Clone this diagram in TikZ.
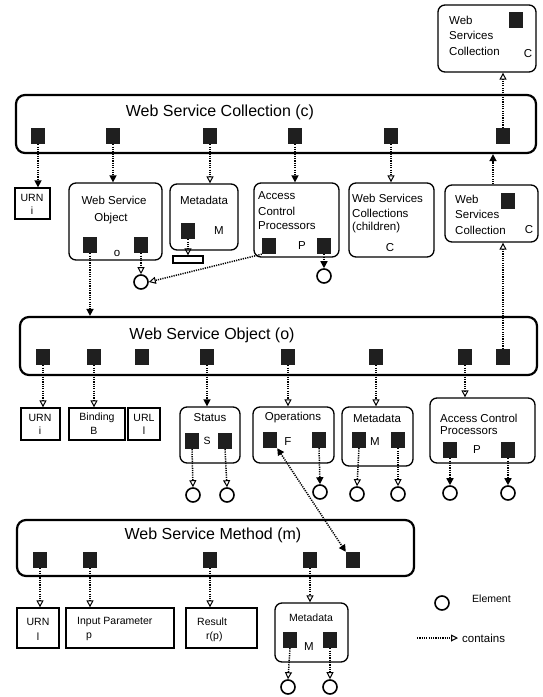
\documentclass[tikz,border=0pt]{standalone}
\usepackage{fontspec}
\setmainfont{Liberation Sans}
\usetikzlibrary{arrows.meta}
\newcommand\mybox[6]{\node[#2, minimum width={(#5-#3)*1pt}, minimum height={(#6-#4)*1pt}, inner sep=0pt] (#1) at ({(#3+#5)/2},{(#4+#6)/2}) {};}
\begin{document}
\begin{tikzpicture}[x=1pt,y=-1pt,
  bigbox/.style={draw, line width=2.2pt, rounded corners=9pt},
  rbox/.style={draw, line width=1.3pt, rounded corners=7pt},
  sbox/.style={draw, line width=1.3pt},
  sq/.style={fill=black!88, minimum width=14pt, minimum height=16pt, inner sep=0pt},
  el/.style={circle, draw, line width=1.6pt, minimum size=14pt, inner sep=0pt},
  dotline/.style={line width=1.5pt, dash pattern=on 1.2pt off 1.1pt},
  cont/.style={dotline, -{Triangle[open,length=7pt,width=7pt,line width=1pt]}},
  contf/.style={dotline, -{Triangle[length=7pt,width=7pt]}},
  ttl/.style={font=\fontsize{16}{19}\selectfont, inner sep=0pt},
  mt/.style={font=\fontsize{11.5}{14}\selectfont, inner sep=0pt},
  st/.style={font=\fontsize{10.5}{13}\selectfont, inner sep=0pt}
]
\useasboundingbox (0,0) rectangle (543,697);

% ===== Web Service Collection =====
\mybox{C}{bigbox}{16}{95}{536}{153}
\node[ttl] (Ct) at (220,112) {Web Service Collection (c)};
\node[sq] (c1) at (38,136) {};
\node[sq] (c2) at (113,136) {};
\node[sq] (c3) at (210,136) {};
\node[sq] (c4) at (295,136) {};
\node[sq] (c5) at (391,136) {};
\node[sq] (c6) at (503,136) {};

% top-right collection
\mybox{tr}{rbox}{438}{5}{536}{72}
\node[sq] (trs) at (516,20) {};
\node[mt, anchor=west] (trt1) at (449,20) {Web};
\node[mt, anchor=west] (trt2) at (449,35) {Services};
\node[mt, anchor=west] (trt3) at (449,51) {Collection};
\node[mt] (trc) at (528,54) {C};

% lower-right collection
\mybox{lr}{rbox}{445}{185}{538}{242}
\node[sq] (lrs) at (508,201) {};
\node[mt, anchor=west] (lrt1) at (455,199) {Web};
\node[mt, anchor=west] (lrt2) at (455,214) {Services};
\node[mt, anchor=west] (lrt3) at (455,230) {Collection};
\node[mt] (lrc) at (529,230) {C};

% row 1 boxes
\mybox{urn1}{sbox}{15}{188}{50}{219}
\node[st] (urn1a) at (32,198) {URN};
\node[st] (urn1b) at (32,211) {i};

\mybox{wso1}{rbox}{69}{183}{162}{260}
\node[mt] (wso1a) at (114,200) {Web Service};
\node[mt] (wso1b) at (111,219) {Object};
\node[sq] (w1) at (90,245) {};
\node[sq] (w2) at (141,245) {};
\node[mt] (wso1o) at (117,253) {o};
\node[el] (e1) at (141,282) {};

\mybox{meta1}{rbox}{170}{184}{238}{250}
\node[mt] (meta1a) at (204,200) {Metadata};
\node[sq] (mt1) at (188,231) {};
\node[mt] (meta1m) at (219,231) {M};
\mybox{rect1}{sbox}{173}{256}{203}{263}

\mybox{acp1}{rbox}{254}{183}{339}{257}
\node[mt, anchor=west] (acp1a) at (258,196) {Access};
\node[mt, anchor=west] (acp1b) at (258,211) {Control};
\node[mt, anchor=west] (acp1c) at (258,226) {Processors};
\node[sq] (a1) at (269,246) {};
\node[sq] (a2) at (324,246) {};
\node[mt] (acp1p) at (302,246) {P};
\node[el] (e2) at (324,276) {};

\mybox{chi}{rbox}{349}{183}{434}{257}
\node[mt, anchor=west] (chia) at (352,198) {Web Services};
\node[mt, anchor=west] (chib) at (352,213) {Collections};
\node[mt, anchor=west] (chic) at (352,228) {(children)};
\node[mt] (chid) at (390,248) {C};

% ===== Web Service Object =====
\mybox{O}{bigbox}{20}{317}{537}{375}
\node[ttl] (Ot) at (212,335) {Web Service Object (o)};
\node[sq] (o1) at (43,357) {};
\node[sq] (o2) at (94,357) {};
\node[sq] (o3) at (142,357) {};
\node[sq] (o4) at (207,357) {};
\node[sq] (o5) at (288,357) {};
\node[sq] (o6) at (376,357) {};
\node[sq] (o7) at (465,357) {};
\node[sq] (o8) at (503,357) {};

\mybox{urn2}{sbox}{21}{408}{60}{440}
\node[st] (urn2a) at (40,418) {URN};
\node[st] (urn2b) at (40,431) {i};
\mybox{bind}{sbox}{69}{408}{125}{440}
\node[st] (binda) at (97,418) {Binding};
\node[st] (bindb) at (94,431) {B};
\mybox{url}{sbox}{128}{408}{160}{440}
\node[st] (urla) at (144,418) {URL};
\node[st] (urlb) at (144,431) {l};

\mybox{stat}{rbox}{180}{407}{240}{463}
\node[mt] (stata) at (210,418) {Status};
\node[sq] (s1) at (192,441) {};
\node[sq] (s2) at (225,441) {};
\node[st] (stats) at (207,441) {S};
\node[el] (e3) at (193,495) {};
\node[el] (e4) at (227,495) {};

\mybox{oper}{rbox}{253}{407}{334}{463}
\node[mt] (opera) at (293,418) {Operations};
\node[sq] (p1) at (270,440) {};
\node[sq] (p2) at (319,440) {};
\node[mt] (operf) at (288,442) {F};
\node[el] (e5) at (320,492) {};

\mybox{meta2}{rbox}{342}{407}{413}{466}
\node[mt] (meta2a) at (377,418) {Metadata};
\node[sq] (q1) at (359,440) {};
\node[sq] (q2) at (398,440) {};
\node[mt] (meta2m) at (375,442) {M};
\node[el] (e6) at (357,494) {};
\node[el] (e7) at (398,494) {};

\mybox{acp2}{rbox}{430}{398}{535}{463}
\node[mt, anchor=west] (acp2a) at (440,418) {Access Control};
\node[mt, anchor=west] (acp2b) at (440,431) {Processors};
\node[sq] (r1) at (450,450) {};
\node[sq] (r2) at (508,450) {};
\node[mt] (acp2p) at (477,450) {P};
\node[el] (e8) at (450,493) {};
\node[el] (e9) at (508,493) {};

% ===== Web Service Method =====
\mybox{M}{bigbox}{17}{520}{414}{576}
\node[ttl] (Mt) at (213,535) {Web Service Method (m)};
\node[sq] (m1) at (40,560) {};
\node[sq] (m2) at (90,560) {};
\node[sq] (m3) at (210,560) {};
\node[sq] (m4) at (310,560) {};
\node[sq] (m5) at (353,560) {};

\mybox{urn3}{sbox}{17}{608}{59}{648}
\node[st] (urn3a) at (38,622) {URN};
\node[st] (urn3b) at (38,637) {l};
\mybox{inp}{sbox}{66}{608}{174}{648}
\node[st, anchor=west] (inpa) at (77,622) {Input Parameter};
\node[st, anchor=west] (inpb) at (86,637) {p};
\mybox{res}{sbox}{186}{608}{257}{648}
\node[st, anchor=west] (resa) at (197,622) {Result};
\node[st, anchor=west] (resb) at (206,637) {r(p)};

\mybox{meta3}{rbox}{275}{603}{348}{662}
\node[st] (meta3a) at (311,618) {Metadata};
\node[sq] (n1) at (290,640) {};
\node[sq] (n2) at (330,640) {};
\node[mt] (meta3m) at (309,647) {M};
\node[el] (e10) at (288,687) {};
\node[el] (e11) at (330,687) {};

% legend
\node[el] (le) at (442,603) {};
\node[st, anchor=west] (let) at (472,599) {Element};
\coordinate (la) at (417,638);
\coordinate (lb) at (458,638);
\draw[cont] (la) -- (lb);
\node[mt, anchor=west] (lct) at (462,638) {contains};

% ===== connectors =====
\draw[contf] (c1.south) -- (c1.south |- urn1.north);
\draw[contf] (c2.south) -- (c2.south |- wso1.north);
\draw[cont] (c3.south) -- (c3.south |- meta1.north);
\draw[contf] (c4.south) -- (c4.south |- acp1.north);
\draw[cont] (c5.south) -- (c5.south |- chi.north);
\draw[cont] (c6.north) -- (c6.north |- tr.south);
\draw[contf] (lr.north -| 493,0) -- (C.south -| 493,0);
\draw[cont] (o8.north) -- (o8.north |- lr.south);

\draw[cont] (w2.south) -- (e1.north);
\draw[cont] (mt1.south) -- (mt1.south |- rect1.north);
\draw[contf] (a2.south) -- (e2.north);
\draw[cont] (a1.south west) -- (e1.east);
\draw[contf] (w1.south) -- (w1.south |- O.north);

\draw[cont] (o1.south) -- (o1.south |- urn2.north);
\draw[cont] (o2.south) -- (o2.south |- bind.north);
\draw[contf] (o4.south) -- (o4.south |- stat.north);
\draw[cont] (o5.south) -- (o5.south |- oper.north);
\draw[cont] (o6.south) -- (o6.south |- meta2.north);
\draw[cont] (o7.south) -- (o7.south |- acp2.north);

\draw[cont] (s1.south) -- (e3.north);
\draw[cont] (s2.south) -- (e4.north);
\draw[contf] (p2.south) -- (e5.north);
\draw[cont] (q1.south) -- (e6.north);
\draw[cont] (q2.south) -- (e7.north);
\draw[contf] (r1.south) -- (e8.north);
\draw[contf] (r2.south) -- (e9.north);

\draw[dotline, {Triangle[length=7pt,width=7pt]}-{Triangle[length=7pt,width=7pt]}] (p1.south east) -- (m5.north west);

\draw[cont] (m1.south) -- (m1.south |- urn3.north);
\draw[cont] (m2.south) -- (m2.south |- inp.north);
\draw[cont] (m3.south) -- (m3.south |- res.north);
\draw[cont] (m4.south) -- (m4.south |- meta3.north);
\draw[cont] (n1.south) -- (e10.north);
\draw[cont] (n2.south) -- (e11.north);
\end{tikzpicture}
\end{document}
